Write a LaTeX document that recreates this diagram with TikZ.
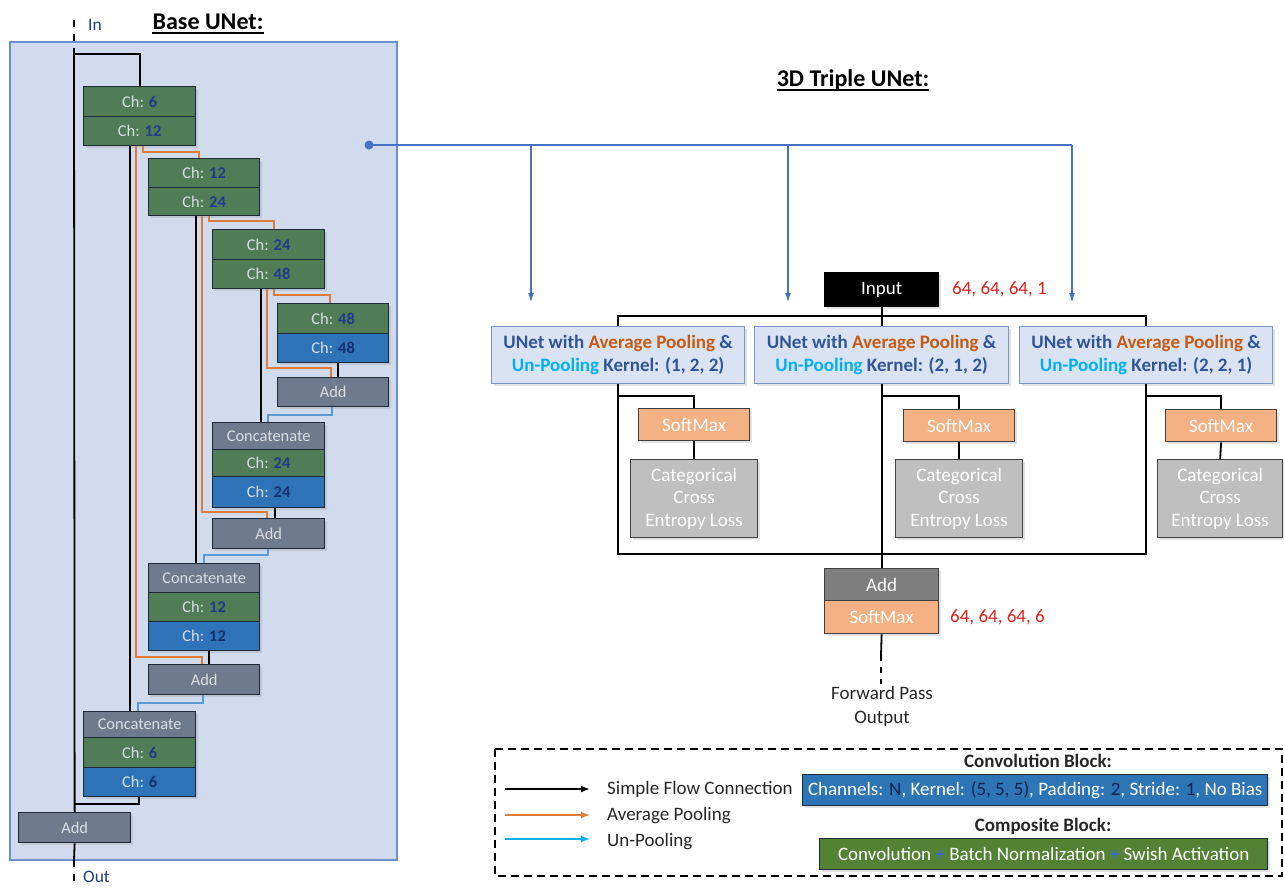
\documentclass[tikz,border=0pt]{standalone}
\usepackage{fontspec}
\setmainfont{Carlito}
\usetikzlibrary{arrows.meta,shadows}
\definecolor{panelfill}{HTML}{D0DCEE}
\definecolor{panelborder}{HTML}{6F8FCB}
\definecolor{blkgreen}{HTML}{507D55}
\definecolor{blkblue}{HTML}{2E73B8}
\definecolor{blkgray}{HTML}{6E7A8D}
\definecolor{edgec}{HTML}{1E2A38}
\definecolor{chtxt}{HTML}{D9DEE3}
\definecolor{numblue}{HTML}{1F3C8C}
\definecolor{numnavy}{HTML}{12306E}
\definecolor{poolc}{HTML}{E07B3C}
\definecolor{unpoolc}{HTML}{5B9BD5}
\definecolor{linkc}{HTML}{4472C4}
\definecolor{uboxfill}{HTML}{DAE3F3}
\definecolor{uboxedge}{HTML}{7A96CA}
\definecolor{dkblue}{HTML}{2F5597}
\definecolor{orng}{HTML}{C55A11}
\definecolor{cyanc}{HTML}{00B0F0}
\definecolor{smfill}{HTML}{F4B183}
\definecolor{ccefill}{HTML}{BFBFBF}
\definecolor{addgray}{HTML}{7F7F7F}
\definecolor{redc}{HTML}{E0201F}
\definecolor{legblue}{HTML}{2E75B6}
\definecolor{leggreen}{HTML}{548235}
\definecolor{legnavy}{HTML}{0E2350}
\definecolor{legplus}{HTML}{3D6BC8}
\definecolor{txtdark}{HTML}{262626}
\definecolor{inoutc}{HTML}{1F3C7A}
\newcommand\gch[1]{Ch: \textcolor{numblue}{\textbf{#1}}}
\newcommand\bch[1]{Ch: \textcolor{numnavy}{\textbf{#1}}}
\begin{document}
\begin{tikzpicture}[x=1pt,y=-1pt,
  shd/.style={drop shadow={shadow xshift=2pt,shadow yshift=-2pt,opacity=0.22}},
  blk/.style={draw=edgec, line width=1.3pt, anchor=north west, inner sep=0pt, text=chtxt,
    font=\fontsize{16.4}{19}\selectfont, shd},
  grn/.style={blk, fill=blkgreen},
  blu/.style={blk, fill=blkblue},
  gry/.style={blk, fill=blkgray},
  flow/.style={line width=1.8pt, draw=black},
  pool/.style={line width=1.8pt, draw=poolc},
  unpool/.style={line width=1.8pt, draw=unpoolc},
  link/.style={line width=2.2pt, draw=linkc},
  mf/.style={font=\fontsize{19}{23}\selectfont},
  ubox/.style={draw=uboxedge, line width=1.3pt, fill=uboxfill, anchor=north west, inner sep=0pt,
    align=center, font=\fontsize{19}{23}\selectfont\bfseries, shd},
  rbox/.style={draw=black!75, line width=1.3pt, anchor=north west, inner sep=0pt, text=white,
    align=center, font=\fontsize{19}{22.5}\selectfont, shd},
  lgtxt/.style={anchor=west, inner sep=0pt, text=txtdark, font=\fontsize{19}{23}\selectfont},
  larr/.style={line width=1.8pt, -{Latex[length=9pt,width=7pt]}}
]
\useasboundingbox (0,0) rectangle (1284,887);

% ---------------- Base UNet panel ----------------
\draw[draw=panelborder, fill=panelfill, line width=1.2pt] (10,42) rectangle (397,860);
\node[inner sep=0pt, font=\fontsize{24}{28}\selectfont\bfseries] (t1) at (208,22) {Base UNet:};
\draw[line width=1.5pt] ([yshift=-3.5pt]t1.base west) -- ([yshift=-3.5pt]t1.base east);
\node[anchor=west, inner sep=0pt, text=inoutc, font=\fontsize{17.5}{20}\selectfont] (intxt) at (88,25) {In};
\node[anchor=west, inner sep=0pt, text=inoutc, font=\fontsize{17.5}{20}\selectfont] (outtxt) at (83,877) {Out};

\node[grn, minimum width=112pt, minimum height=30pt] (b1a) at (83,86) {\gch{6}};
\node[grn, minimum width=112pt, minimum height=29pt] (b1b) at (83,116) {\gch{12}};
\node[grn, minimum width=111pt, minimum height=29pt] (b2a) at (148,158) {\gch{12}};
\node[grn, minimum width=111pt, minimum height=28pt] (b2b) at (148,187) {\gch{24}};
\node[grn, minimum width=112pt, minimum height=30pt] (b3a) at (212,229) {\gch{24}};
\node[grn, minimum width=112pt, minimum height=29pt] (b3b) at (212,259) {\gch{48}};
\node[grn, minimum width=111pt, minimum height=30pt] (b4a) at (277,303) {\gch{48}};
\node[blu, minimum width=111pt, minimum height=29pt] (b4b) at (277,333) {\bch{48}};
\node[gry, minimum width=111pt, minimum height=29pt] (a4) at (277,377) {Add};
\node[gry, minimum width=112pt, minimum height=27pt] (c3) at (212,422) {Concatenate};
\node[grn, minimum width=112pt, minimum height=27pt] (c3a) at (212,449) {\gch{24}};
\node[blu, minimum width=112pt, minimum height=31pt] (c3b) at (212,476) {\bch{24}};
\node[gry, minimum width=112pt, minimum height=30pt] (a3) at (212,518) {Add};
\node[gry, minimum width=111pt, minimum height=29pt] (c2) at (148,563) {Concatenate};
\node[grn, minimum width=111pt, minimum height=29pt] (c2a) at (148,592) {\gch{12}};
\node[blu, minimum width=111pt, minimum height=29pt] (c2b) at (148,621) {\bch{12}};
\node[gry, minimum width=111pt, minimum height=30pt] (a2) at (148,664) {Add};
\node[gry, minimum width=112pt, minimum height=26pt] (c1) at (83,711) {Concatenate};
\node[grn, minimum width=112pt, minimum height=30pt] (c1a) at (83,737) {\gch{6}};
\node[blu, minimum width=112pt, minimum height=29pt] (c1b) at (83,767) {\bch{6}};
\node[gry, minimum width=112pt, minimum height=30pt] (a1) at (18,812) {Add};

\coordinate (intop) at (74,20);
\coordinate (inj) at (74,54);
\coordinate (j1) at (74,804);
\coordinate (outj) at (74,860);
\coordinate (outend) at (74,887);

% in / out
\draw[line width=1.8pt, dash pattern=on 7pt off 7pt] (intop) -- (inj);
\draw[flow] (inj) -- (a1.north);
\draw[flow] (inj) -| (b1a.north);
\draw[flow] (a1.south) -- (outj);
\draw[line width=1.8pt, dash pattern=on 7pt off 7pt] (outj) -- (outend);

% skip (black)
\draw[flow] ([xshift=47pt]b1b.south west) -- ([xshift=47pt]c1.north west);
\draw[flow] ([xshift=48pt]b2b.south west) -- ([xshift=48pt]c2.north west);
\draw[flow] ([xshift=49pt]b3b.south west) -- ([xshift=49pt]c3.north west);
\draw[flow] ([xshift=61pt]b4b.south west) -- ([xshift=61pt]a4.north west);
\draw[flow] ([xshift=63pt]c3b.south west) -- ([xshift=63pt]a3.north west);
\draw[flow] ([xshift=61pt]c2b.south west) -- ([xshift=61pt]a2.north west);
\draw[flow] ([xshift=56pt]c1b.south west) |- (j1);

% average pooling (orange)
\draw[pool] ([xshift=60pt]b1b.south west) |- ([xshift=51pt,yshift=6pt]b2a.north west) -- ([xshift=51pt]b2a.north west);
\draw[pool] ([xshift=53pt]b1b.south west) |- ([xshift=54pt,yshift=7pt]a2.north west) -- ([xshift=54pt]a2.north west);
\draw[pool] ([xshift=61pt]b2b.south west) |- ([xshift=62pt,yshift=8pt]b3a.north west) -- ([xshift=62pt]b3a.north west);
\draw[pool] ([xshift=54pt]b2b.south west) |- ([xshift=55pt,yshift=6pt]a3.north west) -- ([xshift=55pt]a3.north west);
\draw[pool] ([xshift=62pt]b3b.south west) |- ([xshift=53pt,yshift=8pt]b4a.north west) -- ([xshift=53pt]b4a.north west);
\draw[pool] ([xshift=55pt]b3b.south west) |- ([xshift=54pt,yshift=9pt]a4.north west) -- ([xshift=54pt]a4.north west);

% un-pooling (blue)
\draw[unpool] ([xshift=55pt]a4.south west) |- ([xshift=56pt,yshift=7pt]c3.north west) -- ([xshift=56pt]c3.north west);
\draw[unpool] ([xshift=56pt]a3.south west) |- ([xshift=56pt,yshift=8pt]c2.north west) -- ([xshift=56pt]c2.north west);
\draw[unpool] ([xshift=55pt]a2.south west) |- ([xshift=55pt,yshift=8pt]c1.north west) -- ([xshift=55pt]c1.north west);

% ---------------- link to triple UNet ----------------
\coordinate (dot) at (369,145);
\coordinate (d1) at (531,145);
\coordinate (d2) at (788,145);
\coordinate (d3) at (1072,145);
\coordinate (e1) at (531,303);
\coordinate (e2) at (788,303);
\coordinate (e3) at (1072,303);
\fill[linkc] (dot) circle (4.5);
\draw[link] (dot) -- (d3);
\draw[link, line width=1.8pt, -{Latex[length=10pt,width=6pt]}] (d1) -- (e1);
\draw[link, line width=1.8pt, -{Latex[length=10pt,width=6pt]}] (d2) -- (e2);
\draw[link, line width=1.8pt, -{Latex[length=10pt,width=6pt]}] (d3) -- (e3);

% ---------------- 3D Triple UNet ----------------
\node[inner sep=0pt, font=\fontsize{24}{28}\selectfont\bfseries] (t2) at (853,80) {3D Triple UNet:};
\draw[line width=1.5pt] ([yshift=-3.5pt]t2.base west) -- ([yshift=-3.5pt]t2.base east);

\node[rbox, fill=black, draw=black, minimum width=114pt, minimum height=34pt] (inp) at (824,272) {Input};
\node[anchor=west, inner sep=0pt, text=redc, mf] (r1) at (952,289) {64, 64, 64, 1};

\node[ubox, minimum width=253pt, minimum height=57pt] (u1) at (491,326)
  {\textcolor{dkblue}{UNet with} \textcolor{orng}{Average Pooling} \textcolor{dkblue}{\&}\\
   \textcolor{cyanc}{Un-Pooling} \textcolor{dkblue}{Kernel: (1, 2, 2)}};
\node[ubox, minimum width=254pt, minimum height=57pt] (u2) at (754,326)
  {\textcolor{dkblue}{UNet with} \textcolor{orng}{Average Pooling} \textcolor{dkblue}{\&}\\
   \textcolor{cyanc}{Un-Pooling} \textcolor{dkblue}{Kernel: (2, 1, 2)}};
\node[ubox, minimum width=253pt, minimum height=57pt] (u3) at (1019,326)
  {\textcolor{dkblue}{UNet with} \textcolor{orng}{Average Pooling} \textcolor{dkblue}{\&}\\
   \textcolor{cyanc}{Un-Pooling} \textcolor{dkblue}{Kernel: (2, 2, 1)}};

\node[rbox, fill=smfill, minimum width=111pt, minimum height=32pt] (sm1) at (638,408) {SoftMax};
\node[rbox, fill=smfill, minimum width=111pt, minimum height=32pt] (sm2) at (903,409) {SoftMax};
\node[rbox, fill=smfill, minimum width=111pt, minimum height=32pt] (sm3) at (1165,409) {SoftMax};
\node[rbox, fill=ccefill, minimum width=127pt, minimum height=78pt] (cce1) at (630,459) {Categorical\\Cross\\Entropy Loss};
\node[rbox, fill=ccefill, minimum width=127pt, minimum height=78pt] (cce2) at (895,459) {Categorical\\Cross\\Entropy Loss};
\node[rbox, fill=ccefill, minimum width=125pt, minimum height=78pt] (cce3) at (1157,459) {Categorical\\Cross\\Entropy Loss};

\node[rbox, fill=addgray, minimum width=114pt, minimum height=32pt] (addn) at (824,568) {Add};
\node[rbox, fill=smfill, minimum width=114pt, minimum height=33pt] (smo) at (824,600) {SoftMax};
\node[anchor=west, inner sep=0pt, text=redc, mf] (r2) at (950,617) {64, 64, 64, 6};

\draw[flow] (inp.south) -- (u2.north);
\draw[flow] (u1.north) -- ++(0,-10) -| (u3.north);
\draw[flow] (u1.south) -- ++(0,170) -| (u3.south);
\draw[flow] (u2.south) -- (addn.north);
\draw[flow] ([yshift=-12pt]u1.south) -| (sm1.north);
\draw[flow] ([yshift=-12pt]u2.south) -| (sm2.north);
\draw[flow] ([yshift=-12pt]u3.south) -| (sm3.north);
\draw[flow] (sm1.south) -- (cce1.north);
\draw[flow] (sm2.south) -- (cce2.north);
\draw[flow] (sm3.south) -- (cce3.north);

\coordinate (oj) at (881,655);
\coordinate (oe) at (881,684);
\draw[flow] (smo.south) -- (oj);
\draw[line width=1.8pt, dash pattern=on 6pt off 6pt] (oj) -- (oe);
\node[inner sep=0pt, align=center, text=txtdark, font=\fontsize{19}{24}\selectfont] (fwd) at (882,706) {Forward Pass\\Output};

% ---------------- Legend ----------------
\draw[line width=1.8pt, dash pattern=on 8pt off 5pt] (495,749) rectangle (1282,876);
\coordinate (l1s) at (505,789); \coordinate (l1e) at (590,789);
\coordinate (l2s) at (505,815); \coordinate (l2e) at (590,815);
\coordinate (l3s) at (505,839); \coordinate (l3e) at (590,839);
\draw[larr, black] (l1s) -- (l1e);
\draw[larr, draw=poolc, fill=poolc] (l2s) -- (l2e);
\draw[larr, draw=cyanc, fill=cyanc] (l3s) -- (l3e);
\node[lgtxt] (lt1) at (607,789) {Simple Flow Connection};
\node[lgtxt] (lt2) at (607,816) {Average Pooling};
\node[lgtxt] (lt3) at (607,842) {Un-Pooling};

\node[inner sep=0pt, font=\fontsize{19}{23}\selectfont\bfseries, text=txtdark] (cbt) at (1038,761) {Convolution Block:};
\node[rbox, fill=legblue, draw=edgec, text=white, minimum width=465pt, minimum height=31pt] (cb) at (802,774)
  {Channels: \textcolor{legnavy}{N}, Kernel: \textcolor{legnavy}{(5, 5, 5)}, Padding: \textcolor{legnavy}{2}, Stride: \textcolor{legnavy}{1}, No Bias};
\node[inner sep=0pt, font=\fontsize{19}{23}\selectfont\bfseries, text=txtdark] (cpt) at (1043,826) {Composite Block:};
\node[rbox, fill=leggreen, draw=edgec, text=white, minimum width=448pt, minimum height=31pt] (cp) at (819,838)
  {Convolution \textcolor{legplus}{\textbf{+}} Batch Normalization \textcolor{legplus}{\textbf{+}} Swish Activation};
\end{tikzpicture}
\end{document}
